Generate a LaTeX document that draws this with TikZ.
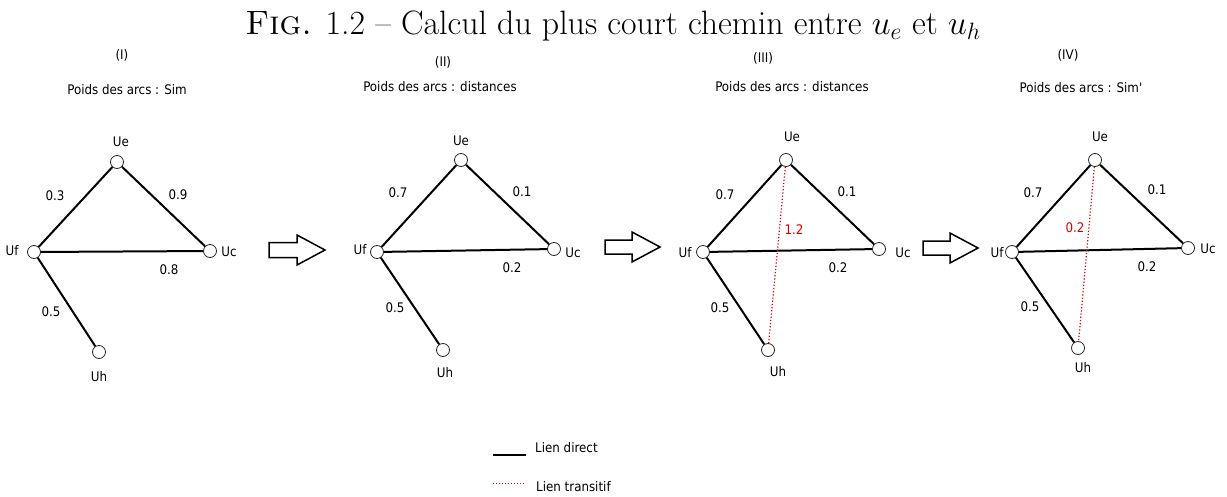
\documentclass[tikz,border=0pt]{standalone}
\usepackage{fix-cm}
\usepackage{fontspec}
\newfontfamily\dvfont{DejaVu Sans Condensed}
\tikzset{
  vtx/.style={circle,draw=black!85,fill=white,minimum size=13pt,inner sep=0pt,line width=0.8pt},
  txt/.style={font=\dvfont\fontsize{13.2}{15}\selectfont,inner sep=0pt},
  redtxt/.style={txt,text=red!85!black},
  direct/.style={line width=2pt},
  trans/.style={red!85!black,dotted,line width=1.2pt},
  bigarrow/.style={draw,fill=white,line width=1.5pt,line join=miter}
}
\begin{document}
\begin{tikzpicture}[x=1pt,y=-1pt]
\useasboundingbox (0,0) rectangle (1227,496);
% title
\node[inner sep=0pt,anchor=base] (title) at (613,34) {\fontsize{33.8}{38}\selectfont\textsc{Fig.} 1.2 -- Calcul du plus court chemin entre $u_e$ et $u_h$};

% ---------- Panel I ----------
\node[txt] (t1) at (122,55) {(I)};
\node[txt] (p1) at (127,90) {Poids des arcs : Sim};
\node[vtx] (e1) at (117,162) {};
\node[vtx] (f1) at (34,252) {};
\node[vtx] (c1) at (210,251) {};
\node[vtx] (h1) at (99,352) {};
\node[txt] (le1) at (121,142) {Ue};
\node[txt] (lf1) at (12,251) {Uf};
\node[txt] (lc1) at (229,252) {Uc};
\node[txt] (lh1) at (99,377) {Uh};
\draw[direct] (f1) -- (e1);
\draw[direct] (e1) -- (c1);
\draw[direct] (f1) -- (c1);
\draw[direct] (f1) -- (h1);
\node[txt] (w1a) at (55,196) {0.3};
\node[txt] (w1b) at (178,195) {0.9};
\node[txt] (w1c) at (169,270) {0.8};
\node[txt] (w1d) at (51,312) {0.5};

% arrow 1
\draw[bigarrow] (269,242.5) -- (297,242.5) -- (297,235) -- (325,250) -- (297,265) -- (297,257.5) -- (269,257.5) -- cycle;

% ---------- Panel II ----------
\node[txt] (t2) at (443,62) {(II)};
\node[txt] (p2) at (440,87) {Poids des arcs : distances};
\node[vtx] (e2) at (461,160) {};
\node[vtx] (f2) at (377,252) {};
\node[vtx] (c2) at (554,249) {};
\node[vtx] (h2) at (443,350) {};
\node[txt] (le2) at (461,141) {Ue};
\node[txt] (lf2) at (360,250) {Uf};
\node[txt] (lc2) at (573,253) {Uc};
\node[txt] (lh2) at (445,373) {Uh};
\draw[direct] (f2) -- (e2);
\draw[direct] (e2) -- (c2);
\draw[direct] (f2) -- (c2);
\draw[direct] (f2) -- (h2);
\node[txt] (w2a) at (398,193) {0.7};
\node[txt] (w2b) at (522,192) {0.1};
\node[txt] (w2c) at (512,268) {0.2};
\node[txt] (w2d) at (395,308) {0.5};

% arrow 2
\draw[bigarrow] (605,240) -- (632,240) -- (632,232) -- (660,247) -- (632,262) -- (632,254) -- (605,254) -- cycle;

% ---------- Panel III ----------
\node[txt] (t3) at (763,58) {(III)};
\node[txt] (p3) at (792,87) {Poids des arcs : distances};
\node[vtx] (e3) at (786,160) {};
\node[vtx] (f3) at (703,252) {};
\node[vtx] (c3) at (879,249) {};
\node[vtx] (h3) at (768,350) {};
\node[txt] (le3) at (792,137) {Ue};
\node[txt] (lf3) at (685,253) {Uf};
\node[txt] (lc3) at (903,253) {Uc};
\node[txt] (lh3) at (778,372) {Uh};
\draw[direct] (f3) -- (e3);
\draw[direct] (e3) -- (c3);
\draw[direct] (f3) -- (c3);
\draw[direct] (f3) -- (h3);
\draw[trans] (e3) -- (h3);
\node[txt] (w3a) at (725,195) {0.7};
\node[txt] (w3b) at (847,192) {0.1};
\node[txt] (w3c) at (838,268) {0.2};
\node[txt] (w3d) at (720,308) {0.5};
\node[redtxt] (w3e) at (794,230) {1.2};

% arrow 3
\draw[bigarrow] (923,241) -- (950,241) -- (950,233) -- (978,248) -- (950,263) -- (950,255) -- (923,255) -- cycle;

% ---------- Panel IV ----------
\node[txt] (t4) at (1068,55) {(IV)};
\node[txt] (p4) at (1081,88) {Poids des arcs : Sim'};
\node[vtx] (e4) at (1095,160) {};
\node[vtx] (f4) at (1012,252) {};
\node[vtx] (c4) at (1188,248) {};
\node[vtx] (h4) at (1078,348) {};
\node[txt] (le4) at (1100,137) {Ue};
\node[txt] (lf4) at (997,253) {Uf};
\node[txt] (lc4) at (1208,249) {Uc};
\node[txt] (lh4) at (1083,368) {Uh};
\draw[direct] (f4) -- (e4);
\draw[direct] (e4) -- (c4);
\draw[direct] (f4) -- (c4);
\draw[direct] (f4) -- (h4);
\draw[trans] (e4) -- (h4);
\node[txt] (w4a) at (1033,193) {0.7};
\node[txt] (w4b) at (1157,190) {0.1};
\node[txt] (w4c) at (1147,267) {0.2};
\node[txt] (w4d) at (1030,307) {0.5};
\node[redtxt] (w4e) at (1075,228) {0.2};

% ---------- Legend ----------
\coordinate (la) at (493,455);
\coordinate (lb) at (526,455);
\coordinate (lc) at (493,483);
\coordinate (ld) at (526,483);
\draw[line width=1.6pt] (la) -- (lb);
\draw[trans,line width=1pt] (lc) -- (ld);
\node[txt,anchor=west] (ldir) at (535,448) {Lien direct};
\node[txt,anchor=west] (ltr) at (536,487) {Lien transitif};
\end{tikzpicture}
\end{document}
